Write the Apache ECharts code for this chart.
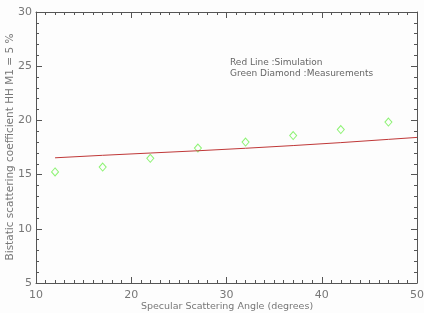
<!DOCTYPE html>
<html><head><meta charset="utf-8">
<script src="https://cdn.jsdelivr.net/npm/echarts@6/dist/echarts.min.js"></script>
<style>html,body{margin:0;padding:0;background:#fff}#c{width:424px;height:313px}</style>
</head><body><div id="c"></div>
<script>
const measAngles = [12, 17, 22, 27, 32, 37, 42, 47];
const measValues = [15.25, 15.7, 16.5, 17.45, 18.0, 18.6, 19.15, 19.85];
const simAngles = [12, 17, 22, 27, 32, 37, 42, 47, 50];
const simValues = [16.55, 16.78, 16.99, 17.2, 17.43, 17.68, 17.95, 18.25, 18.43];
const xTitle = 'Specular Scattering Angle (degrees)';
const yTitle = 'Bistatic scattering coefficient HH M1 = 5 %';
const noteLines = ['Red Line :Simulation', 'Green Diamond :Measurements'];

const axisCol = '#555';
const labelCol = '#777';
const font = 'DejaVu Sans';

const chart = echarts.init(document.getElementById('c'), null, {renderer: 'canvas'});
const baseX = {
  type: 'value', min: 10, max: 50, interval: 10,
  axisLine: {show: true, lineStyle: {color: axisCol, width: 1}},
  axisTick: {show: true, inside: true, length: 6, lineStyle: {color: axisCol}},
  minorTick: {show: true, splitNumber: 10, length: 3, lineStyle: {color: axisCol}},
  splitLine: {show: false}
};
const baseY = {
  type: 'value', min: 5, max: 30, interval: 5,
  axisLine: {show: true, lineStyle: {color: axisCol, width: 1}},
  axisTick: {show: true, inside: true, length: 6, lineStyle: {color: axisCol}},
  minorTick: {show: true, splitNumber: 5, length: 3, lineStyle: {color: axisCol}},
  splitLine: {show: false}
};
chart.setOption({
  backgroundColor: '#fdfdfd',
  animation: false,
  grid: {left: 36, right: 7, top: 12, bottom: 30, containLabel: false, outerBoundsMode: 'none'},
  xAxis: [
    Object.assign({}, baseX, {position: 'bottom',
      axisLabel: {color: labelCol, fontFamily: font, fontSize: 11, margin: 7}}),
    Object.assign({}, baseX, {position: 'top', axisLabel: {show: false}})
  ],
  yAxis: [
    Object.assign({}, baseY, {position: 'left',
      axisLabel: {color: labelCol, fontFamily: font, fontSize: 11, margin: 4}}),
    Object.assign({}, baseY, {position: 'right', axisLabel: {show: false}})
  ],
  graphic: [
    {type: 'text', left: 230, top: 57,
      style: {text: noteLines.join('\n'), fill: '#666', font: '9px "DejaVu Sans"', lineHeight: 11}},
    {type: 'text', x: 227, y: 307,
      style: {text: xTitle, fill: labelCol, font: '9.5px "DejaVu Sans"', align: 'center', verticalAlign: 'middle'}},
    {type: 'text', x: 10, y: 147, rotation: Math.PI / 2,
      style: {text: yTitle, fill: labelCol, font: '10.5px "DejaVu Sans"', align: 'center', verticalAlign: 'middle'}}
  ],
  series: [
    {type: 'line', data: simAngles.map((a, i) => [a, simValues[i]]), showSymbol: false,
      lineStyle: {color: '#c03838', width: 1}, smooth: false},
    {type: 'scatter', data: measAngles.map((a, i) => [a, measValues[i]]), symbol: 'diamond',
      symbolSize: [7, 8], itemStyle: {color: 'rgba(0,0,0,0)', borderColor: '#70f050', borderWidth: 1}}
  ]
});
</script></body></html>
